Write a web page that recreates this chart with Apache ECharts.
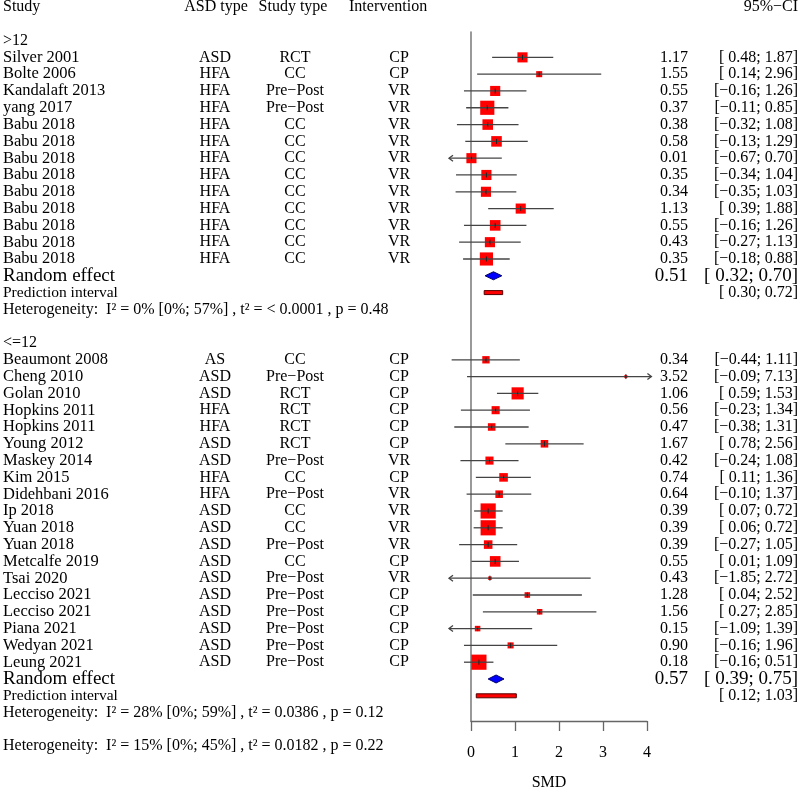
<!DOCTYPE html>
<html><head><meta charset="utf-8">
<script src="https://cdn.jsdelivr.net/npm/echarts@6/dist/echarts.min.js"></script>
<style>html,body{margin:0;padding:0;background:#fff}#c{width:800px;height:790px}</style>
</head><body><div id="c"></div>
<script>
// ---------- data ----------
const headers = ["Study", "ASD type", "Study type", "Intervention", "95%\u2212CI"];
const xTicks = [0, 1, 2, 3, 4];
const axisName = "SMD";

const group1Label = ">12";
const studies1 = ["Silver 2001","Bolte 2006","Kandalaft 2013","yang 2017","Babu 2018","Babu 2018","Babu 2018","Babu 2018","Babu 2018","Babu 2018","Babu 2018","Babu 2018","Babu 2018"];
const asd1 = ["ASD","HFA","HFA","HFA","HFA","HFA","HFA","HFA","HFA","HFA","HFA","HFA","HFA"];
const design1 = ["RCT","CC","Pre\u2212Post","Pre\u2212Post","CC","CC","CC","CC","CC","CC","CC","CC","CC"];
const interv1 = ["CP","CP","VR","VR","VR","VR","VR","VR","VR","VR","VR","VR","VR"];
const smd1 = [1.17,1.55,0.55,0.37,0.38,0.58,0.01,0.35,0.34,1.13,0.55,0.43,0.35];
const lo1 = [0.48,0.14,-0.16,-0.11,-0.32,-0.13,-0.67,-0.34,-0.35,0.39,-0.16,-0.27,-0.18];
const hi1 = [1.87,2.96,1.26,0.85,1.08,1.29,0.70,1.04,1.03,1.88,1.26,1.13,0.88];
const weight1 = [10.0,3.6,10.0,19.6,10.9,10.9,10.0,10.0,10.0,10.0,11.0,10.0,16.9];
const re1 = [0.51, 0.32, 0.70];
const pi1 = [0.30, 0.72];
const het1 = ["0%", "[0%; 57%]", "< 0.0001", "0.48"];

const group2Label = "<=12";
const studies2 = ["Beaumont 2008","Cheng 2010","Golan 2010","Hopkins 2011","Hopkins 2011","Young 2012","Maskey 2014","Kim 2015","Didehbani 2016","Ip 2018","Yuan 2018","Yuan 2018","Metcalfe 2019","Tsai 2020","Lecciso 2021","Lecciso 2021","Piana 2021","Wedyan 2021","Leung 2021"];
const asd2 = ["AS","ASD","ASD","HFA","HFA","ASD","ASD","HFA","HFA","ASD","ASD","ASD","ASD","ASD","ASD","ASD","ASD","ASD","ASD"];
const design2 = ["CC","Pre\u2212Post","RCT","RCT","RCT","RCT","Pre\u2212Post","CC","Pre\u2212Post","CC","CC","Pre\u2212Post","CC","Pre\u2212Post","Pre\u2212Post","Pre\u2212Post","Pre\u2212Post","Pre\u2212Post","Pre\u2212Post"];
const interv2 = ["CP","CP","CP","CP","CP","CP","VR","CP","VR","VR","VR","VR","CP","VR","CP","CP","CP","CP","CP"];
const smd2 = [0.34,3.52,1.06,0.56,0.47,1.67,0.42,0.74,0.64,0.39,0.39,0.39,0.55,0.43,1.28,1.56,0.15,0.90,0.18];
const lo2 = [-0.44,-0.09,0.59,-0.23,-0.38,0.78,-0.24,0.11,-0.10,0.07,0.06,-0.27,0.01,-1.85,0.04,0.27,-1.09,-0.16,-0.16];
const hi2 = [1.11,7.13,1.53,1.34,1.31,2.56,1.08,1.36,1.37,0.72,0.72,1.05,1.09,2.72,2.52,2.85,1.39,1.96,0.51];
const weight2 = [5.3,0.9,14.4,6.4,5.6,5.6,6.4,7.2,5.6,22.5,22.5,7.2,11.0,1.2,3.0,3.0,3.0,3.6,22.5];
const re2 = [0.57, 0.39, 0.75];
const pi2 = [0.12, 1.03];
const het2 = ["28%", "[0%; 59%]", "0.0386", "0.12"];

const hetAll = ["15%", "[0%; 45%]", "0.0182", "0.22"];

// ---------- helpers ----------
const XMIN = -0.5, XMAX = 4.1;
const MINUS = "\u2212";
function f2(v) { return (v < 0 ? MINUS : "") + Math.abs(v).toFixed(2); }
function ciText(lo, hi) { return "[" + (lo < 0 ? "" : " ") + f2(lo) + "; " + f2(hi) + "]"; }
function hetText(h) { return "Heterogeneity:  I\u00b2 = " + h[0] + " " + h[1] + " , t\u00b2 = " + h[2] + " , p = " + h[3]; }

// ---------- build rows ----------
const marks = [];   // [est, row, lo, hi, weight, kind]
const texts = [];   // {row, items:[{t,x,align,size}]}
const COLX = {study: 3, asd: 215, design: 295, interv: 399, est: 688, ci: 798};

texts.push({row: 0, items: [
  {t: headers[0], x: COLX.study, align: 'left'},
  {t: headers[1], x: 216, align: 'center'},
  {t: headers[2], x: 293, align: 'center'},
  {t: headers[3], x: 349, align: 'left'},
  {t: headers[4], x: COLX.ci, align: 'right'}
]});

function addGroup(startRow, label, st, asd, des, itv, smd, lo, hi, w, re, pi, het) {
  let r = startRow;
  texts.push({row: r, items: [{t: label, x: COLX.study, align: 'left'}]});
  r++;
  for (let i = 0; i < st.length; i++, r++) {
    marks.push([smd[i], r, lo[i], hi[i], w[i], 0]);
    texts.push({row: r, items: [
      {t: st[i], x: COLX.study, align: 'left', size: 16.5},
      {t: asd[i], x: COLX.asd, align: 'center'},
      {t: des[i], x: COLX.design, align: 'center'},
      {t: itv[i], x: COLX.interv, align: 'center'},
      {t: smd[i].toFixed(2), x: COLX.est, align: 'right'},
      {t: ciText(lo[i], hi[i]), x: COLX.ci, align: 'right'}
    ]});
  }
  marks.push([re[0], r, re[1], re[2], 0, 1]);
  texts.push({row: r, items: [
    {t: "Random effect", x: COLX.study, align: 'left', size: 19},
    {t: re[0].toFixed(2), x: COLX.est, align: 'right', size: 19},
    {t: ciText(re[1], re[2]), x: COLX.ci, align: 'right', size: 19}
  ]});
  r++;
  marks.push([(pi[0] + pi[1]) / 2, r, pi[0], pi[1], 0, 2]);
  texts.push({row: r, items: [
    {t: "Prediction interval", x: COLX.study, align: 'left', size: 15.5},
    {t: ciText(pi[0], pi[1]), x: COLX.ci, align: 'right'}
  ]});
  r++;
  texts.push({row: r, items: [{t: hetText(het), x: COLX.study, align: 'left'}]});
  return r + 2;
}
let nextRow = addGroup(2, group1Label, studies1, asd1, design1, interv1, smd1, lo1, hi1, weight1, re1, pi1, het1);
nextRow = addGroup(nextRow, group2Label, studies2, asd2, design2, interv2, smd2, lo2, hi2, weight2, re2, pi2, het2);
texts.push({row: nextRow, items: [{t: hetText(hetAll), x: COLX.study, align: 'left'}]});

// ---------- chart ----------
const chart = echarts.init(document.getElementById('c'), null, {renderer: 'canvas'});
const LINE = '#444';

function renderMark(params, api) {
  const est = api.value(0), row = api.value(1), lo = api.value(2), hi = api.value(3), w = api.value(4), kind = api.value(5);
  const y = api.coord([0, row])[1];
  const px = v => api.coord([v, row])[0];
  const ch = [];
  if (kind === 0) {
    const l = Math.max(lo, XMIN), h = Math.min(hi, XMAX);
    const s = 3.2 * Math.sqrt(w);
    const cx = px(est);
    ch.push({type: 'rect', shape: {x: cx - s / 2, y: y - s / 2, width: s, height: s}, style: {fill: '#ff0000', stroke: null}});
    ch.push({type: 'line', shape: {x1: px(l), y1: y, x2: px(h), y2: y}, style: {stroke: LINE, lineWidth: 1.3}});
    ch.push({type: 'line', shape: {x1: cx, y1: y - 2.5, x2: cx, y2: y + 2.5}, style: {stroke: '#222', lineWidth: 1}});
    if (lo < XMIN) {
      const x0 = px(XMIN);
      ch.push({type: 'polyline', shape: {points: [[x0 + 4, y - 3], [x0, y], [x0 + 4, y + 3]]}, style: {stroke: LINE, lineWidth: 1.3, fill: null}});
    }
    if (hi > XMAX) {
      const x1 = px(XMAX);
      ch.push({type: 'polyline', shape: {points: [[x1 - 4, y - 3], [x1, y], [x1 - 4, y + 3]]}, style: {stroke: LINE, lineWidth: 1.3, fill: null}});
    }
  } else if (kind === 1) {
    ch.push({type: 'polygon', shape: {points: [[px(lo), y], [px(est), y - 4], [px(hi), y], [px(est), y + 4]]},
      style: {fill: '#0000ff', stroke: '#000066', lineWidth: 1}});
  } else {
    ch.push({type: 'rect', shape: {x: px(lo), y: y - 2, width: px(hi) - px(lo), height: 4},
      style: {fill: '#ff0000', stroke: '#550000', lineWidth: 1}});
  }
  return {type: 'group', children: ch};
}

function renderText(params, api) {
  const t = texts[params.dataIndex];
  const y = api.coord([0, t.row])[1];
  return {type: 'group', children: t.items.map(it => ({
    type: 'text', x: it.x, y: y,
    style: {text: it.t, align: it.align, verticalAlign: 'middle', fill: '#000',
      fontFamily: 'Liberation Serif', fontSize: it.size || 16}
  }))};
}

const option = {
  animation: false,
  backgroundColor: '#fff',
  grid: {left: 471, top: 32, width: 176, height: 689, containLabel: false},
  xAxis: {
    type: 'value', min: 0, max: 4, interval: 1, position: 'bottom',
    axisLine: {show: true, onZero: false, lineStyle: {color: '#666', width: 1.3}},
    axisTick: {show: true, inside: false, length: 10, lineStyle: {color: '#666', width: 1.3}},
    axisLabel: {show: true, margin: 24, color: '#000', fontFamily: 'Liberation Serif', fontSize: 16,
      customValues: xTicks, formatter: v => String(v)},
    splitLine: {show: false}
  },
  yAxis: {
    type: 'value', inverse: true, min: 1.49, max: 42.5,
    axisLine: {show: true, onZero: false, lineStyle: {color: '#808080', width: 1.6}},
    axisTick: {show: false}, axisLabel: {show: false}, splitLine: {show: false}
  },
  graphic: [{type: 'text', x: 549, y: 783, style: {text: axisName, align: 'center', verticalAlign: 'middle',
    fill: '#000', fontFamily: 'Liberation Serif', fontSize: 16}}],
  series: [
    {type: 'custom', clip: false, renderItem: renderMark, data: marks, silent: true},
    {type: 'custom', clip: false, renderItem: renderText, data: texts.map(t => [0, t.row]), silent: true}
  ]
};
chart.setOption(option);
</script>
</body></html>
